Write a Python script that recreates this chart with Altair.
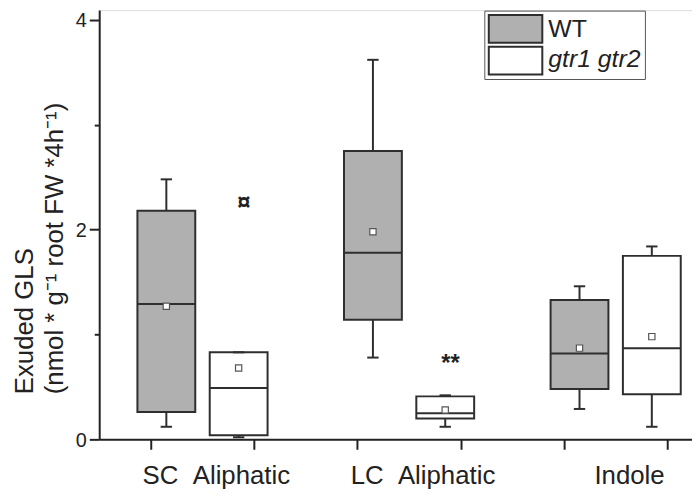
import altair as alt
import pandas as pd

# ---- data ----
groups = ["SC\u00a0\u00a0Aliphatic", "LC\u00a0\u00a0Aliphatic", "Indole"]
genotypes = ["WT", "gtr1 gtr2"]
# box order: SC WT, SC gtr, LC WT, LC gtr, Indole WT, Indole gtr
box_group = [groups[0], groups[0], groups[1], groups[1], groups[2], groups[2]]
box_geno = ["WT", "gtr1 gtr2", "WT", "gtr1 gtr2", "WT", "gtr1 gtr2"]
whisker_low = [0.12, 0.02, 0.78, 0.12, 0.29, 0.12]
q1 = [0.26, 0.04, 1.14, 0.20, 0.48, 0.43]
median = [1.29, 0.49, 1.78, 0.25, 0.82, 0.87]
q3 = [2.18, 0.83, 2.75, 0.41, 1.33, 1.75]
whisker_high = [2.48, 0.83, 3.62, 0.42, 1.46, 1.84]
mean = [1.27, 0.68, 1.98, 0.28, 0.87, 0.98]

annot_text = ["¤", "**"]
annot_group = [groups[0], groups[1]]
annot_y = [2.19, 0.65]

# ---- layout ----
group_center = {g: c for g, c in zip(groups, [1.5, 3.5, 5.5])}
geno_offset = {"WT": -0.35, "gtr1 gtr2": 0.35}
half_w = 0.28
cap_w = 0.055

rows = []
for i in range(len(box_group)):
    pos = group_center[box_group[i]] + geno_offset[box_geno[i]]
    rows.append(dict(group=box_group[i], genotype=box_geno[i], pos=pos,
                     x_lo=pos - half_w, x_hi=pos + half_w,
                     cap_lo=pos - cap_w, cap_hi=pos + cap_w,
                     lo=whisker_low[i], q1=q1[i], median=median[i],
                     q3=q3[i], hi=whisker_high[i], mean=mean[i]))
df = pd.DataFrame(rows)

ann = pd.DataFrame({"text": annot_text,
                    "x": [group_center[g] + 0.4 for g in annot_group],
                    "y": annot_y})
lab = pd.DataFrame({"label": groups, "x": [group_center[g] for g in groups]})
one = pd.DataFrame({"a": [0]})

FONT = "Liberation Sans"
DARK = "#222222"
BOX = "#2e2e2e"

xscale = alt.Scale(domain=[0.5, 6.239], nice=False, zero=False)
yscale = alt.Scale(domain=[0, 4.094], nice=False, zero=False)

base = alt.Chart(df)

boxes = base.mark_rect(stroke=BOX, strokeWidth=2).encode(
    x=alt.X("x_lo:Q", scale=xscale,
            axis=alt.Axis(values=[1, 2, 3, 4, 5, 6], labels=False, tickSize=10,
                          tickWidth=2, domainWidth=2, domainColor=DARK,
                          tickColor=DARK, grid=False, title=None)),
    x2="x_hi:Q",
    y=alt.Y("q1:Q", scale=yscale,
            axis=alt.Axis(values=[0, 1, 2, 3, 4], format="d",
                          labelExpr="datum.value % 2 === 0 ? datum.label : ''",
                          tickSize={"condition": {"test": "datum.value % 2 === 0", "value": 10}, "value": 5},
                          tickWidth=2, domainWidth=2, domainColor=DARK, tickColor=DARK,
                          labelFont=FONT, labelFontSize=20, labelColor=DARK, labelPadding=3,
                          labelOffset=1,
                          grid=False,
                          title=["Exuded GLS", "(nmol * g⁻¹ root FW *4h⁻¹)"],
                          titleFont=FONT, titleFontSize=26, titleFontWeight="normal",
                          titleColor=DARK, titleAngle=270, titleAlign="left",
                          titleBaseline="alphabetic", titleX=-67, titleY=387,
                          titleLineHeight=30)),
    y2="q3:Q",
    fill=alt.Fill("genotype:N", scale=alt.Scale(domain=genotypes, range=["#b0b0b0", "#ffffff"]),
                  legend=None),
)

wh_up = base.mark_rule(color=BOX, strokeWidth=2).encode(x="pos:Q", y="q3:Q", y2="hi:Q")
wh_dn = base.mark_rule(color=BOX, strokeWidth=2).encode(x="pos:Q", y="lo:Q", y2="q1:Q")
cap_up = base.mark_rule(color=BOX, strokeWidth=2).encode(x="cap_lo:Q", x2="cap_hi:Q", y="hi:Q")
cap_dn = base.mark_rule(color=BOX, strokeWidth=2).encode(x="cap_lo:Q", x2="cap_hi:Q", y="lo:Q")
med = base.mark_rule(color=BOX, strokeWidth=2).encode(x="x_lo:Q", x2="x_hi:Q", y="median:Q")
mn = base.mark_square(size=40, filled=True, fill="white", stroke="#555555",
                      strokeWidth=1.2, opacity=1).encode(x="pos:Q", y="mean:Q")

annots = alt.Chart(ann).mark_text(font=FONT, fontSize=24, fontWeight="bold", color=DARK,
                                  baseline="alphabetic").encode(
    x="x:Q", y="y:Q", text="text:N")

xlabels = alt.Chart(lab).mark_text(font=FONT, fontSize=26, color=DARK, baseline="alphabetic",
                                   dx=14).encode(
    x="x:Q", y=alt.value(478), text="label:N")

# ---- legend box ----
leg_frame = alt.Chart(one).mark_rect(fill="white", stroke="#555555", strokeWidth=1).encode(
    x=alt.value(389), x2=alt.value(551), y=alt.value(1), y2=alt.value(70))
leg_wt = alt.Chart(one).mark_rect(fill="#b0b0b0", stroke=BOX, strokeWidth=2).encode(
    x=alt.value(393), x2=alt.value(447), y=alt.value(5), y2=alt.value(33))
leg_gtr = alt.Chart(one).mark_rect(fill="white", stroke=BOX, strokeWidth=2).encode(
    x=alt.value(393), x2=alt.value(447), y=alt.value(37), y2=alt.value(65))
leg_t1 = alt.Chart(one).mark_text(text=genotypes[0], font=FONT, fontSize=25, color=DARK,
                                  align="left", baseline="alphabetic").encode(
    x=alt.value(453), y=alt.value(27))
leg_t2 = alt.Chart(one).mark_text(text=genotypes[1], font=FONT, fontSize=25, color=DARK,
                                  fontStyle="italic", align="left", baseline="alphabetic").encode(
    x=alt.value(453), y=alt.value(57))

chart = alt.layer(
    boxes, wh_up, wh_dn, cap_up, cap_dn, med, mn, annots, xlabels,
    leg_frame, leg_wt, leg_gtr, leg_t1, leg_t2
).properties(
    width=598, height=433,
    autosize=alt.AutoSizeParams(type="none"),
    padding={"left": 92, "top": 0, "right": 0, "bottom": 55},
).configure_view(stroke=None).configure(background="white")

chart.save("out.html", embed_options={"renderer": "svg", "actions": False})
